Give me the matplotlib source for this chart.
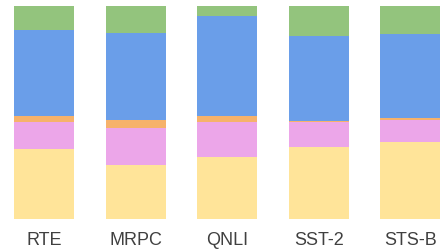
import matplotlib
matplotlib.use("Agg")
import matplotlib.pyplot as plt
import numpy as np

# datasets and stacked shares (percent, bottom -> top)
tasks = ["RTE", "MRPC", "QNLI", "SST-2", "STS-B"]
yellow = [32.9, 25.5, 29.3, 33.9, 36.0]
pink = [12.5, 17.2, 16.1, 11.5, 10.6]
orange = [3.1, 3.8, 3.1, 0.6, 0.7]
blue = [40.2, 40.7, 46.7, 39.7, 39.4]
green = [11.3, 12.8, 4.8, 14.3, 13.3]

series = [yellow, pink, orange, blue, green]
colors = ["#FFE499", "#ECA6E9", "#F6B26B", "#6A9EE9", "#93C47D"]

fig = plt.figure(figsize=(4.44, 2.51), dpi=100)
ax = fig.add_axes([0, 31 / 251, 1, 213.3 / 251])

x = np.arange(len(tasks))
bottom = np.zeros(len(tasks))
for vals, c in zip(series, colors):
    ax.bar(x, vals, width=0.656, bottom=bottom, color=c, linewidth=0)
    bottom += np.array(vals)

ax.set_xlim(-0.483, 4.368)
ax.set_ylim(0, 100)
ax.set_xticks(x)
ax.set_xticklabels(tasks, fontsize=13, family="Liberation Sans", color="#404040")
ax.tick_params(axis="x", length=0, pad=9)
ax.set_yticks([])
for s in ax.spines.values():
    s.set_visible(False)

fig.savefig("out.png", dpi=100)
